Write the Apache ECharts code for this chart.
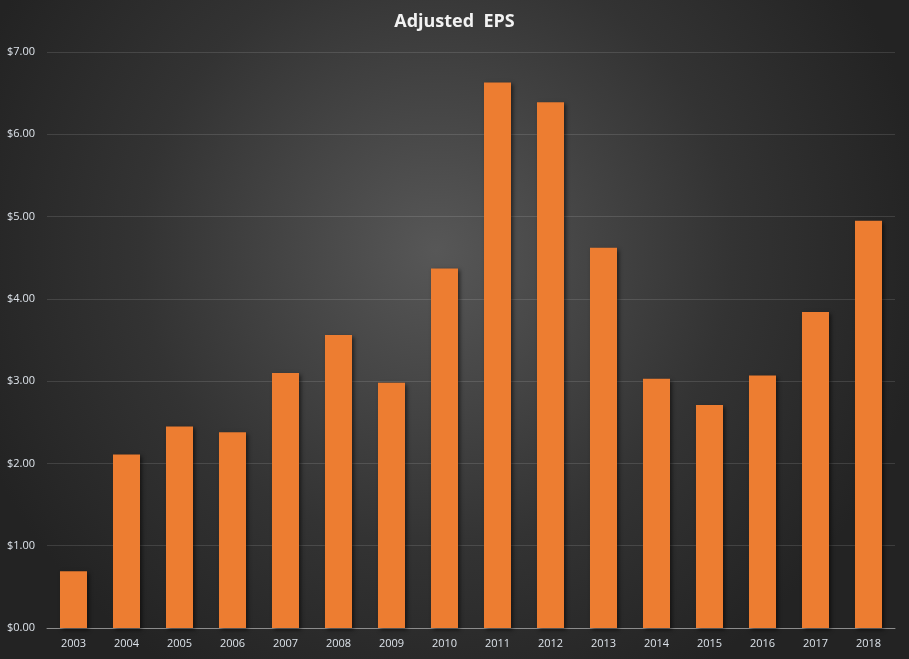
<!DOCTYPE html>
<html>
<head>
<meta charset="utf-8">
<script src="https://cdn.jsdelivr.net/npm/echarts@6/dist/echarts.min.js"></script>
<style>
html,body{margin:0;padding:0;width:909px;height:659px;overflow:hidden;}
#c{width:909px;height:659px;}
</style>
</head>
<body>
<div id="c"></div>
<script>
const years = ['2003','2004','2005','2006','2007','2008','2009','2010','2011','2012','2013','2014','2015','2016','2017','2018'];
const eps = [0.69, 2.11, 2.45, 2.38, 3.10, 3.56, 2.98, 4.37, 6.63, 6.39, 4.62, 3.03, 2.71, 3.07, 3.84, 4.95];
const yTicks = { min: 0, max: 7, interval: 1 };

const chart = echarts.init(document.getElementById('c'));
chart.setOption({
  backgroundColor: {
    type: 'radial', x: 0.48, y: 0.38, r: 0.75,
    colorStops: [
      { offset: 0, color: '#575757' },
      { offset: 0.6, color: '#333333' },
      { offset: 1, color: '#232323' }
    ]
  },
  animation: false,
  title: {
    text: 'Adjusted  EPS',
    left: 'center',
    top: 8,
    textStyle: { color: '#f2f2f2', fontSize: 18, fontWeight: 'bold', fontFamily: 'Open Sans' }
  },
  grid: { left: 47, right: 14, top: 52, bottom: 31, containLabel: false },
  xAxis: {
    type: 'category',
    data: years,
    axisLine: { lineStyle: { color: '#8c8c8c', width: 1 } },
    axisTick: { show: false },
    axisLabel: { color: '#dde3ea', fontSize: 11, margin: 10, fontFamily: 'Open Sans' }
  },
  yAxis: {
    type: 'value',
    min: yTicks.min, max: yTicks.max, interval: yTicks.interval,
    axisLine: { show: false },
    axisTick: { show: false },
    splitLine: { lineStyle: { color: 'rgba(255,255,255,0.12)', width: 1 } },
    axisLabel: {
      color: '#dde3ea', fontSize: 11, margin: 12, fontFamily: 'Open Sans',
      formatter: v => '$' + v.toFixed(2)
    }
  },
  series: [{
    type: 'bar',
    data: eps,
    barWidth: '51%',
    itemStyle: {
      color: '#ED7D31',
      shadowColor: 'rgba(0,0,0,0.55)',
      shadowBlur: 4,
      shadowOffsetX: 2,
      shadowOffsetY: 2
    }
  }]
});
</script>
</body>
</html>
